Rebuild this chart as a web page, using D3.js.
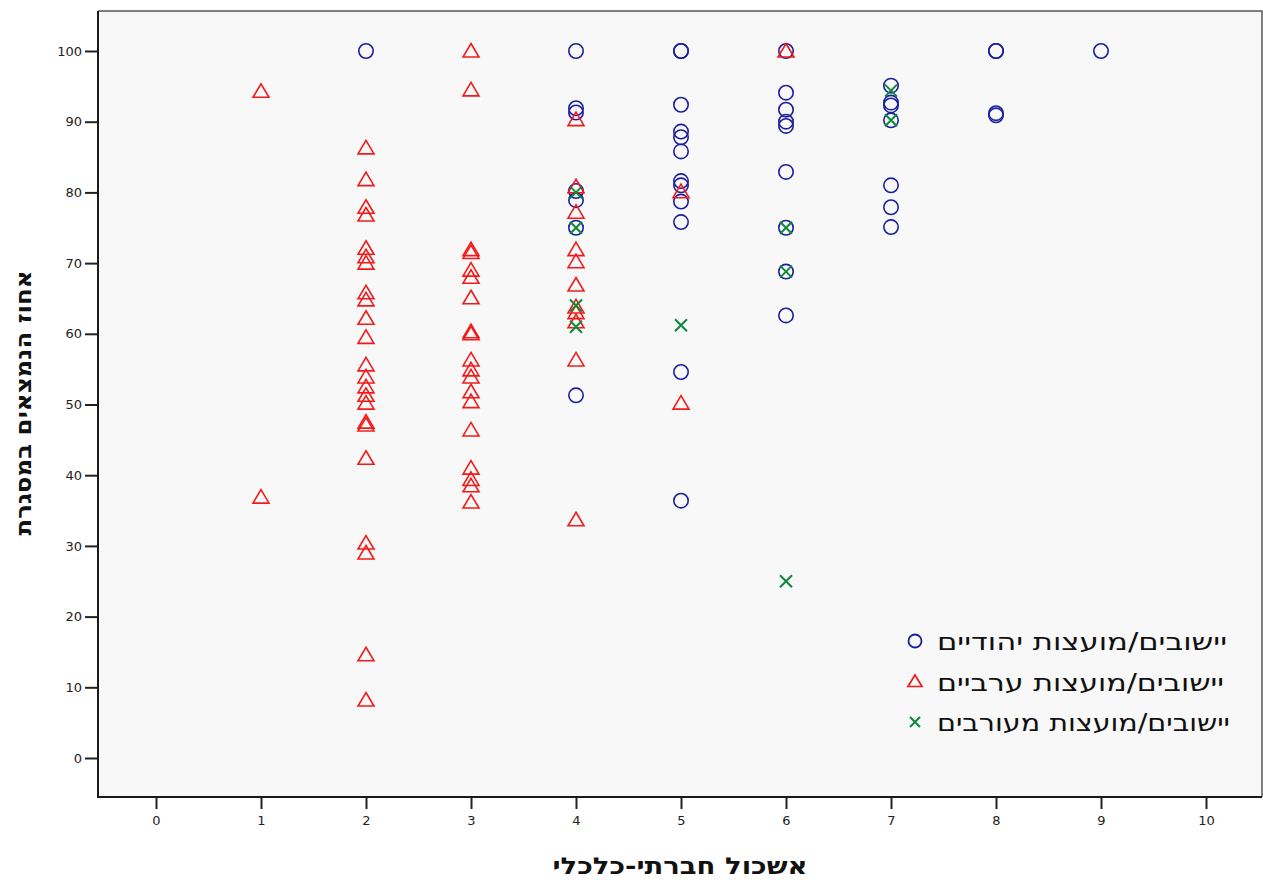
<!DOCTYPE html>
<html>
<head>
<meta charset="utf-8">
<script src="https://cdn.jsdelivr.net/npm/d3@7"></script>
<style>
  body { margin: 0; background: #fff; }
</style>
</head>
<body>
<div class="chart"></div>
<script>
// [אשכול, אחוז] pairs
const jewish = [
  [2, 100],
  [4, 100], [4, 91.9], [4, 91.3], [4, 80.2], [4, 78.9], [4, 75.0], [4, 51.3],
  [5, 100], [5, 100], [5, 92.4], [5, 88.6], [5, 87.8], [5, 85.8], [5, 81.6], [5, 81.0], [5, 78.7], [5, 75.8], [5, 54.6], [5, 36.4],
  [6, 100], [6, 94.1], [6, 91.7], [6, 90.0], [6, 89.4], [6, 82.9], [6, 75.0], [6, 68.8], [6, 62.6],
  [7, 95.1], [7, 92.7], [7, 92.3], [7, 90.2], [7, 81.0], [7, 77.9], [7, 75.1],
  [8, 100], [8, 100], [8, 91.2], [8, 90.9],
  [9, 100]
];

const arab = [
  [1, 94.3], [1, 36.9],
  [2, 86.3], [2, 81.8], [2, 77.9], [2, 76.8], [2, 72.1], [2, 70.9], [2, 70.0], [2, 65.8], [2, 64.8], [2, 62.2],
  [2, 59.5], [2, 55.6], [2, 53.9], [2, 52.5], [2, 51.3], [2, 50.2], [2, 47.5], [2, 47.1], [2, 42.4], [2, 30.4],
  [2, 29.0], [2, 14.6], [2, 8.2],
  [3, 100], [3, 94.5], [3, 71.9], [3, 71.5], [3, 69.0], [3, 68.0], [3, 65.1], [3, 60.3], [3, 60.0], [3, 56.3],
  [3, 54.9], [3, 53.9], [3, 51.8], [3, 50.4], [3, 46.4], [3, 41.0], [3, 39.4], [3, 38.5], [3, 36.2],
  [4, 90.3], [4, 80.8], [4, 77.2], [4, 71.9], [4, 70.2], [4, 66.9], [4, 63.8], [4, 63.0], [4, 61.7], [4, 56.3], [4, 33.7],
  [5, 80.1], [5, 50.2],
  [6, 100]
];

const mixed = [
  [4, 80.0], [4, 75.0], [4, 64.0], [4, 61.0],
  [5, 61.2],
  [6, 75.0], [6, 68.8], [6, 25.0],
  [7, 94.4], [7, 90.2]
];

const xTicks = d3.range(0, 11);
const yTicks = d3.range(0, 101, 10);

const legendLabels = ["יישובים/מועצות יהודיים", "יישובים/מועצות ערביים", "יישובים/מועצות מעורבים"];
const xTitle = "אשכול חברתי-כלכלי";
const yTitle = "אחוז הנמצאים במסגרת";

const totalWidth = 1263, totalHeight = 880;
const frame = {left: 98, right: 1262, top: 11, bottom: 797};

const x = d3.scaleLinear().domain([0, 10]).range([156, 1206]);
const y = d3.scaleLinear().domain([0, 100]).range([758, 51]);

const blue = "#1b1f9c", red = "#f21a1a", green = "#0b8a3a";
const hebFont = 'DejaVu Sans, Liberation Sans, sans-serif';

const svg = d3.select('.chart').append('svg')
  .attr('width', totalWidth).attr('height', totalHeight);

svg.append('rect')
  .attr('x', frame.left).attr('y', frame.top)
  .attr('width', frame.right - frame.left).attr('height', frame.bottom - frame.top)
  .attr('fill', '#f8f8f8');

// top + right border
svg.append('path')
  .attr('d', `M${frame.left},${frame.top}H${frame.right}V${frame.bottom}`)
  .attr('fill', 'none').attr('stroke', '#555').attr('stroke-width', 1.5);

// axes
svg.append('g')
  .attr('transform', `translate(${frame.left},0)`)
  .call(d3.axisLeft(y).tickValues(yTicks).tickSize(13).tickPadding(3).tickFormat(d3.format('d')))
  .call(g => g.select('.domain').remove())
  .call(g => g.selectAll('.tick line').attr('stroke', '#222').attr('stroke-width', 2))
  .call(g => g.selectAll('.tick text').attr('font-family', 'DejaVu Sans, sans-serif').attr('font-size', 13).attr('fill', '#222'));

svg.append('g')
  .attr('transform', `translate(0,${frame.bottom})`)
  .call(d3.axisBottom(x).tickValues(xTicks).tickSize(12).tickPadding(7).tickFormat(d3.format('d')))
  .call(g => g.select('.domain').remove())
  .call(g => g.selectAll('.tick line').attr('stroke', '#222').attr('stroke-width', 2))
  .call(g => g.selectAll('.tick text').attr('font-family', 'DejaVu Sans, sans-serif').attr('font-size', 13).attr('fill', '#222'));

svg.append('path')
  .attr('d', `M${frame.left},${frame.top}V${frame.bottom}H${frame.right}`)
  .attr('fill', 'none').attr('stroke', '#1a1a1a').attr('stroke-width', 2);

// marker shapes
const triPath = "M0,-7.5L8,6L-8,6Z";
const xPath = "M-6,-6L6,6M-6,6L6,-6";

const marks = svg.append('g');

marks.selectAll('circle.jew')
  .data(jewish)
  .join('circle')
    .attr('class', 'jew')
    .attr('cx', d => x(d[0]))
    .attr('cy', d => y(d[1]))
    .attr('r', 7.2)
    .attr('fill', 'none')
    .attr('stroke', blue)
    .attr('stroke-width', 1.6);

marks.selectAll('path.arab')
  .data(arab)
  .join('path')
    .attr('class', 'arab')
    .attr('d', triPath)
    .attr('transform', d => `translate(${x(d[0])},${y(d[1])})`)
    .attr('fill', 'none')
    .attr('stroke', red)
    .attr('stroke-width', 1.6);

marks.selectAll('path.mixed')
  .data(mixed)
  .join('path')
    .attr('class', 'mixed')
    .attr('d', xPath)
    .attr('transform', d => `translate(${x(d[0])},${y(d[1])})`)
    .attr('fill', 'none')
    .attr('stroke', green)
    .attr('stroke-width', 2);

// legend
const legend = svg.append('g').attr('transform', 'translate(915,641)');
const rowStep = 40.5;
const legendWidths = [290, 287, 293];

legend.append('circle').attr('cx', 0).attr('cy', 0).attr('r', 6.5)
  .attr('fill', 'none').attr('stroke', blue).attr('stroke-width', 1.8);
legend.append('path').attr('d', "M0,-6.5L7,5L-7,5Z")
  .attr('transform', `translate(0,${rowStep})`)
  .attr('fill', 'none').attr('stroke', red).attr('stroke-width', 1.7);
legend.append('path').attr('d', "M-5,-5L5,5M-5,5L5,-5")
  .attr('transform', `translate(0,${rowStep * 2})`)
  .attr('fill', 'none').attr('stroke', green).attr('stroke-width', 2);

legend.selectAll('text')
  .data(legendLabels)
  .join('text')
    .attr('x', 22)
    .attr('y', (d, i) => i * rowStep + 9)
    .attr('text-anchor', 'start')
    .attr('font-family', hebFont)
    .attr('font-size', 24)
    .attr('textLength', (d, i) => legendWidths[i])
    .attr('lengthAdjust', 'spacingAndGlyphs')
    .attr('fill', '#111')
    .text(d => d);

// titles
svg.append('text')
  .attr('x', 680)
  .attr('y', 874)
  .attr('text-anchor', 'middle')
  .attr('font-family', hebFont)
  .attr('font-size', 23)
  .attr('font-weight', 'bold')
  .attr('textLength', 255)
  .attr('lengthAdjust', 'spacingAndGlyphs')
  .attr('fill', '#111')
  .text(xTitle);

svg.append('text')
  .attr('transform', 'translate(31,403) rotate(-90)')
  .attr('text-anchor', 'middle')
  .attr('font-family', hebFont)
  .attr('font-size', 22)
  .attr('font-weight', 'bold')
  .attr('textLength', 265)
  .attr('lengthAdjust', 'spacingAndGlyphs')
  .attr('fill', '#111')
  .text(yTitle);
</script>
</body>
</html>
